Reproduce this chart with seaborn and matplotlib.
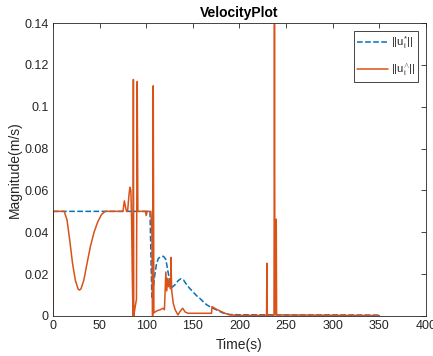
import numpy as np
import pandas as pd
import matplotlib
matplotlib.use("Agg")
import matplotlib.pyplot as plt
from matplotlib.ticker import FixedLocator, FuncFormatter
import seaborn as sns

# ---- data ----
t_star = [0, 104, 106, 107, 109, 111, 113, 116, 118.5, 121, 123, 125, 128, 131,
          134, 137, 140, 142, 146, 150, 154, 158, 162, 165, 170, 176, 181, 186,
          190, 200, 250, 300, 350]
u_star = [0.05, 0.05, 0.009, 0.011, 0.019, 0.025, 0.0275, 0.0285, 0.0285, 0.027,
          0.022, 0.017, 0.0138, 0.015, 0.0168, 0.0178, 0.0172, 0.0158, 0.0135,
          0.0116, 0.0097, 0.0082, 0.0064, 0.0053, 0.0040, 0.0028, 0.0017, 0.0009,
          0.0007, 0.0006, 0.0005, 0.0005, 0.0004]

t_hat = [0, 0.3, 12, 15, 18, 21, 24, 27, 28.5, 30, 33, 36, 40, 44, 48, 52, 56,
         75, 76.5, 78.5, 80, 81.5, 82.5, 83.5, 84.3, 85, 85.8, 86.2, 86.6, 88,
         89.5, 90.3, 91, 99, 100, 101, 105, 106, 106.8, 107.5, 108.2, 111, 115,
         118, 119.5, 121, 122, 123, 124, 125, 126, 126.5, 127.3, 129, 131, 134,
         136, 139, 142, 145, 170, 170.5, 175, 180, 185, 190, 200, 229, 229.4,
         229.8, 237, 237.5, 238, 239, 239.4, 239.8, 350]
u_hat = [0.0, 0.05, 0.05, 0.046, 0.036, 0.025, 0.017, 0.0128, 0.0124, 0.013,
         0.017, 0.024, 0.033, 0.040, 0.045, 0.0485, 0.05, 0.05, 0.055, 0.0505,
         0.050, 0.058, 0.0615, 0.060, 0.045, 0.02, 0.0, 0.113, 0.0, 0.004,
         0.008, 0.112, 0.05, 0.05, 0.048, 0.05, 0.05, 0.04, 0.0, 0.110, 0.0015,
         0.0024, 0.003, 0.0037, 0.003, 0.021, 0.012, 0.018, 0.014, 0.017, 0.013,
         0.028, 0.012, 0.006, 0.003, 0.0005, 0.002, 0.0037, 0.0018, 0.0013,
         0.0013, 0.0045, 0.0033, 0.0022, 0.0012, 0.0005, 0.0003, 0.0003, 0.0252,
         0.0003, 0.0003, 0.1394, 0.001, 0.0006, 0.0463, 0.0005, 0.0002]

x_ticks = [0, 50, 100, 150, 200, 250, 300, 350, 400]
y_ticks = [0, 0.02, 0.04, 0.06, 0.08, 0.1, 0.12, 0.14]

label_star = r'$\mathrm{||u}_{\mathrm{i}}^{*}\mathrm{||}$'
label_hat = r'$\mathrm{||u}_{\mathrm{i}}^{\wedge}\mathrm{||}$'

# ---- style ----
sns.set_style("white")
plt.rcParams['font.family'] = ['Liberation Sans', 'DejaVu Sans']
plt.rcParams['mathtext.fontset'] = 'custom'
plt.rcParams['mathtext.rm'] = 'Liberation Sans'
plt.rcParams['mathtext.it'] = 'Liberation Sans:italic'

axcol = '#262626'
blue = '#0072BD'
orange = '#D95319'

fig = plt.figure(figsize=(4.33, 3.56), dpi=100)
ax = fig.add_axes([53 / 433, 1 - 316 / 356, (426 - 53) / 433, (316 - 23) / 356])

df_star = pd.DataFrame({'t': t_star, 'u': u_star})
df_hat = pd.DataFrame({'t': t_hat, 'u': u_hat})

sns.lineplot(data=df_star, x='t', y='u', ax=ax, color=blue, linestyle='--',
             linewidth=1.1, estimator=None, sort=False, label=label_star)
sns.lineplot(data=df_hat, x='t', y='u', ax=ax, color=orange, linestyle='-',
             linewidth=1.1, estimator=None, sort=False, label=label_hat)

ax.set_xlim(0, 400)
ax.set_ylim(0, 0.14)
ax.xaxis.set_major_locator(FixedLocator(x_ticks))
ax.yaxis.set_major_locator(FixedLocator(y_ticks))
ax.yaxis.set_major_formatter(FuncFormatter(lambda v, p: '%g' % round(v, 4)))
ax.xaxis.set_major_formatter(FuncFormatter(lambda v, p: '%g' % v))

ax.tick_params(direction='in', length=3.5, width=0.6, colors=axcol,
               labelsize=9, top=True, right=True, pad=3)
for s in ax.spines.values():
    s.set_visible(True)
    s.set_color(axcol)
    s.set_linewidth(0.6)

ax.set_title('VelocityPlot', fontsize=10, fontweight='bold', color='black', pad=4)
ax.set_xlabel('Time(s)', fontsize=10, color=axcol, labelpad=4)
ax.set_ylabel('Magnitude(m/s)', fontsize=10, color=axcol, labelpad=2)

leg = ax.legend(loc='upper right', fontsize=8, frameon=True, fancybox=False,
                framealpha=1, edgecolor=axcol, handlelength=2.8,
                borderpad=0.3, labelspacing=1.0, handletextpad=0.2,
                borderaxespad=0.7)
leg.get_frame().set_linewidth(0.6)

fig.savefig('out.png', dpi=100, facecolor='white')
